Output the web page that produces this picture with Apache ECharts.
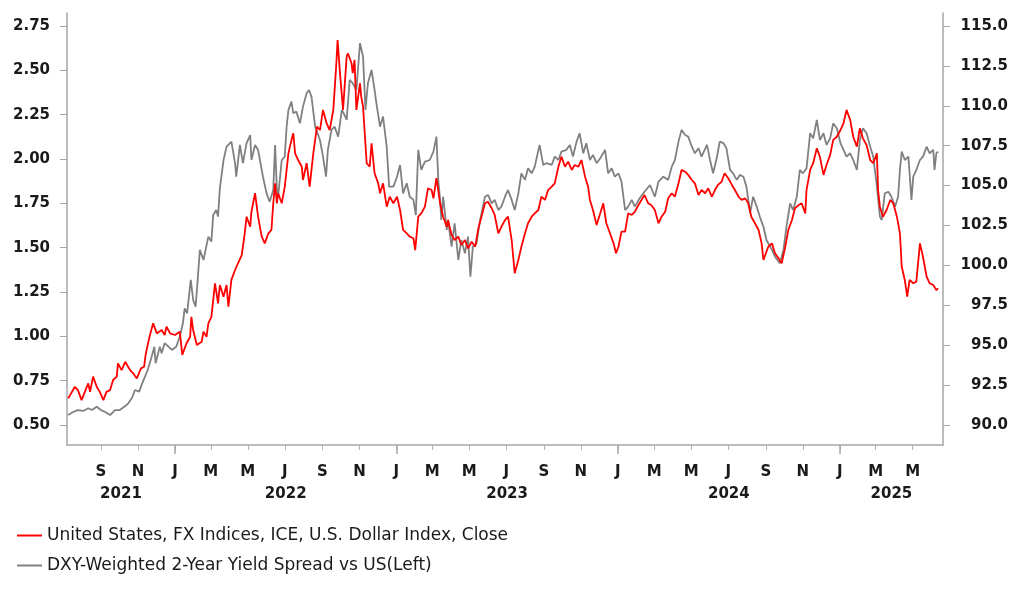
<!DOCTYPE html>
<html><head><meta charset="utf-8">
<script src="https://cdn.jsdelivr.net/npm/echarts@6/dist/echarts.min.js"></script>
<style>html,body{margin:0;padding:0;background:#fff}#c{width:1022px;height:597px}</style>
</head><body><div id="c"></div>
<script>
const redName = 'United States, FX Indices, ICE, U.S. Dollar Index, Close';
const grayName = 'DXY-Weighted 2-Year Yield Spread vs US(Left)';

const axisStart = '2021-07-07';
const axisEnd = '2025-06-20';
const leftMin = 0.387, leftMax = 2.823;
const rightMin = 88.75, rightMax = 115.81;
const leftTicks = [0.5, 0.75, 1.0, 1.25, 1.5, 1.75, 2.0, 2.25, 2.5, 2.75];
const rightTicks = [90, 92.5, 95, 97.5, 100, 102.5, 105, 107.5, 110, 112.5, 115];
const monthTickDates = ['2021-09-01','2021-11-01','2022-01-01','2022-03-01','2022-05-01','2022-07-01','2022-09-01','2022-11-01',
  '2023-01-01','2023-03-01','2023-05-01','2023-07-01','2023-09-01','2023-11-01','2024-01-01','2024-03-01','2024-05-01',
  '2024-07-01','2024-09-01','2024-11-01','2025-01-01','2025-03-01','2025-05-01'];
const monthLetters = ['J','F','M','A','M','J','J','A','S','O','N','D'];
const yearStartDates = ['2022-01-01','2023-01-01','2024-01-01','2025-01-01'];
const yearLabels = [2021, 2022, 2023, 2024, 2025];

const redDates = ['2021-07-09','2021-07-20','2021-07-25','2021-07-31','2021-08-11','2021-08-14','2021-08-19','2021-08-25','2021-08-30',
'2021-09-05','2021-09-10','2021-09-16','2021-09-21','2021-09-27','2021-09-29','2021-10-05','2021-10-11','2021-10-19','2021-10-24','2021-10-30',
'2021-11-06','2021-11-11','2021-11-14','2021-11-20','2021-11-26','2021-12-02','2021-12-10','2021-12-15','2021-12-18','2021-12-24',
'2022-01-01','2022-01-09','2022-01-13','2022-01-20','2022-01-26','2022-01-28','2022-01-31','2022-02-06','2022-02-14','2022-02-17','2022-02-22','2022-02-25',
'2022-03-02','2022-03-08','2022-03-13','2022-03-16','2022-03-22','2022-03-27','2022-03-30','2022-04-04','2022-04-10','2022-04-15','2022-04-21','2022-04-26','2022-04-29',
'2022-05-05','2022-05-07','2022-05-13','2022-05-18','2022-05-24','2022-05-29','2022-06-04','2022-06-09','2022-06-12','2022-06-15','2022-06-18','2022-06-20','2022-06-26',
'2022-07-01','2022-07-07','2022-07-12','2022-07-15','2022-07-18','2022-07-23','2022-07-29','2022-07-31','2022-08-06','2022-08-11','2022-08-17','2022-08-23','2022-08-28',
'2022-09-02','2022-09-08','2022-09-13','2022-09-19','2022-09-24','2022-09-26','2022-09-30','2022-10-05','2022-10-11','2022-10-13','2022-10-19','2022-10-21','2022-10-24','2022-10-27',
'2022-11-02','2022-11-04','2022-11-07','2022-11-13','2022-11-18','2022-11-21','2022-11-26','2022-12-02','2022-12-05','2022-12-10','2022-12-16','2022-12-21','2022-12-27',
'2023-01-02','2023-01-07','2023-01-12','2023-01-18','2023-01-23','2023-01-29','2023-02-01','2023-02-06','2023-02-11','2023-02-17','2023-02-22','2023-02-28',
'2023-03-03','2023-03-08','2023-03-14','2023-03-19','2023-03-25','2023-03-27','2023-04-02','2023-04-07','2023-04-13','2023-04-18','2023-04-24','2023-04-29',
'2023-05-05','2023-05-11','2023-05-16','2023-05-22','2023-05-27','2023-06-01','2023-06-07','2023-06-12','2023-06-18','2023-06-23','2023-06-29',
'2023-07-04','2023-07-10','2023-07-15','2023-07-21','2023-07-26','2023-08-01','2023-08-06','2023-08-12','2023-08-17','2023-08-23','2023-08-28',
'2023-09-03','2023-09-08','2023-09-14','2023-09-19','2023-09-25','2023-09-30','2023-10-06','2023-10-11','2023-10-17','2023-10-22','2023-10-28',
'2023-11-02','2023-11-08','2023-11-13','2023-11-16','2023-11-21','2023-11-27','2023-12-03','2023-12-08','2023-12-13','2023-12-19','2023-12-25','2023-12-29',
'2024-01-02','2024-01-07','2024-01-13','2024-01-18','2024-01-24','2024-01-29','2024-02-04','2024-02-09','2024-02-14','2024-02-20','2024-02-25',
'2024-03-02','2024-03-08','2024-03-13','2024-03-19','2024-03-24','2024-03-30','2024-04-04','2024-04-10','2024-04-15','2024-04-21','2024-04-26',
'2024-05-02','2024-05-07','2024-05-13','2024-05-18','2024-05-24','2024-05-29','2024-06-04','2024-06-09','2024-06-14','2024-06-20','2024-06-25',
'2024-07-01','2024-07-07','2024-07-12','2024-07-18','2024-07-23','2024-07-29','2024-08-03','2024-08-08','2024-08-14','2024-08-20','2024-08-25','2024-08-28',
'2024-09-05','2024-09-11','2024-09-16','2024-09-22','2024-09-27','2024-10-03','2024-10-08','2024-10-14','2024-10-19','2024-10-25','2024-10-30',
'2024-11-05','2024-11-07','2024-11-13','2024-11-18','2024-11-24','2024-11-29','2024-12-05','2024-12-10','2024-12-16','2024-12-21','2024-12-27',
'2025-01-02','2025-01-07','2025-01-12','2025-01-18','2025-01-23','2025-01-29','2025-02-03','2025-02-08','2025-02-14','2025-02-20','2025-02-25',
'2025-03-03','2025-03-05','2025-03-08','2025-03-13','2025-03-19','2025-03-25','2025-03-30','2025-04-05','2025-04-10','2025-04-13','2025-04-18','2025-04-22','2025-04-26',
'2025-05-02','2025-05-07','2025-05-13','2025-05-18','2025-05-24','2025-05-29','2025-06-04','2025-06-09','2025-06-12'];
const redValues = [91.67,92.40,92.19,91.56,92.61,92.08,93.03,92.40,92.08,
91.56,92.08,92.19,92.82,93.03,93.86,93.44,93.96,93.44,93.24,92.92,
93.55,93.65,94.49,95.53,96.37,95.74,95.95,95.64,96.16,95.74,
95.64,95.85,94.39,95.12,95.53,96.78,95.95,95.01,95.22,95.85,95.53,96.37,
96.78,98.88,97.62,98.77,98.04,98.77,97.41,99.09,99.71,100.15,100.65,102.01,103.05,
102.42,103.36,104.52,103.05,101.80,101.38,102.01,102.22,103.89,105.14,103.89,104.52,103.89,
104.93,107.02,107.86,108.28,107.02,106.60,106.18,105.35,106.40,104.93,107.02,108.69,108.48,
109.74,108.90,108.48,109.74,112.66,114.12,112.04,109.74,113.08,113.29,112.66,112.04,112.87,109.74,
111.41,110.57,109.94,106.40,106.18,107.65,105.77,105.14,104.52,105.14,103.68,104.30,103.89,
104.30,103.47,102.22,102.01,101.80,101.70,100.96,103.05,103.26,103.68,104.83,104.72,
104.20,105.46,103.89,103.05,102.42,102.84,101.90,101.59,101.80,101.28,101.59,101.07,
101.48,101.17,102.32,103.16,103.89,103.99,103.58,103.16,102.01,102.42,102.84,
103.05,101.59,99.50,100.34,101.17,102.01,102.64,103.05,103.26,103.47,104.30,
104.10,104.72,104.93,105.14,106.18,106.81,106.18,106.50,105.98,106.29,106.18,
106.60,105.56,104.93,104.10,103.47,102.53,103.26,103.89,102.64,102.01,101.38,100.76,
101.17,102.11,102.11,103.26,103.16,103.36,103.78,104.10,104.41,103.89,103.78,
103.47,102.64,103.05,103.36,104.20,104.52,104.30,105.14,105.98,105.87,105.67,
105.35,105.14,104.41,104.72,104.52,104.83,104.30,104.72,105.04,105.24,105.77,
105.46,105.04,104.72,104.30,104.10,104.20,103.89,103.05,102.64,102.22,101.38,100.34,
101.17,101.38,100.76,100.44,100.13,101.17,102.22,102.84,103.58,103.78,103.89,
103.26,104.72,105.98,106.40,107.34,106.81,105.67,106.29,106.92,107.86,108.06,
108.48,108.90,109.74,109.11,108.06,107.44,108.59,107.96,107.54,106.60,106.40,
107.02,104.72,103.68,103.05,103.47,104.10,103.89,103.05,102.01,99.92,99.09,98.04,99.09,
98.88,98.98,101.38,100.54,99.29,98.88,98.77,98.45,98.56];

const grayDates = ['2021-07-09','2021-07-17','2021-07-25','2021-08-03','2021-08-11','2021-08-17','2021-08-25','2021-09-01','2021-09-08','2021-09-16','2021-09-24',
'2021-10-02','2021-10-09','2021-10-16','2021-10-22','2021-10-27','2021-11-03','2021-11-08','2021-11-17','2021-11-22','2021-11-28','2021-11-30',
'2021-12-07','2021-12-10','2021-12-15','2021-12-27','2022-01-03','2022-01-09','2022-01-14','2022-01-17','2022-01-21','2022-01-27','2022-01-31',
'2022-02-04','2022-02-07','2022-02-11','2022-02-17','2022-02-25','2022-03-02','2022-03-05','2022-03-10','2022-03-13','2022-03-16','2022-03-22','2022-03-27',
'2022-04-04','2022-04-10','2022-04-12','2022-04-18','2022-04-23','2022-04-29','2022-05-05','2022-05-07','2022-05-13','2022-05-18','2022-05-24','2022-05-26',
'2022-06-01','2022-06-06','2022-06-12','2022-06-15','2022-06-18','2022-06-20','2022-06-26','2022-07-01','2022-07-04','2022-07-07','2022-07-12','2022-07-15',
'2022-07-20','2022-07-26','2022-07-31','2022-08-06','2022-08-10','2022-08-14','2022-08-20','2022-08-28','2022-09-02','2022-09-07','2022-09-10','2022-09-16',
'2022-09-21','2022-09-27','2022-10-03','2022-10-06','2022-10-11','2022-10-16','2022-10-21','2022-10-27','2022-11-02','2022-11-07','2022-11-11','2022-11-15',
'2022-11-21','2022-11-26','2022-11-29','2022-12-05','2022-12-10','2022-12-16','2022-12-20','2022-12-27','2023-01-02','2023-01-07','2023-01-12','2023-01-18',
'2023-01-23','2023-01-29','2023-02-02','2023-02-06','2023-02-11','2023-02-17','2023-02-25','2023-03-03','2023-03-08','2023-03-11','2023-03-14','2023-03-16',
'2023-03-19','2023-03-25','2023-03-27','2023-04-02','2023-04-07','2023-04-13','2023-04-18','2023-04-24','2023-04-29','2023-05-03','2023-05-07','2023-05-13',
'2023-05-19','2023-05-27','2023-06-01','2023-06-07','2023-06-12','2023-06-18','2023-06-23','2023-06-29','2023-07-04','2023-07-10','2023-07-15','2023-07-21',
'2023-07-26','2023-08-01','2023-08-06','2023-08-12','2023-08-17','2023-08-25','2023-08-31','2023-09-05','2023-09-14','2023-09-19','2023-09-25','2023-09-30',
'2023-10-08','2023-10-14','2023-10-19','2023-10-25','2023-10-30','2023-11-05','2023-11-10','2023-11-16','2023-11-21','2023-11-27','2023-12-03','2023-12-11',
'2023-12-16','2023-12-22','2023-12-27','2024-01-02','2024-01-07','2024-01-13','2024-01-18','2024-01-24','2024-01-29','2024-02-06','2024-02-14','2024-02-23',
'2024-03-02','2024-03-08','2024-03-16','2024-03-24','2024-03-30','2024-04-04','2024-04-10','2024-04-15','2024-04-21','2024-04-26','2024-05-02','2024-05-07',
'2024-05-13','2024-05-18','2024-05-27','2024-06-01','2024-06-06','2024-06-12','2024-06-17','2024-06-23','2024-06-28','2024-07-04','2024-07-09','2024-07-15',
'2024-07-20','2024-07-26','2024-07-31','2024-08-06','2024-08-11','2024-08-17','2024-08-22','2024-08-28','2024-09-02','2024-09-11','2024-09-16','2024-09-24',
'2024-09-30','2024-10-05','2024-10-11','2024-10-16','2024-10-22','2024-10-27','2024-11-01','2024-11-07','2024-11-13','2024-11-18','2024-11-24','2024-11-29',
'2024-12-05','2024-12-10','2024-12-16','2024-12-21','2024-12-27','2025-01-02','2025-01-07','2025-01-12','2025-01-18','2025-01-23','2025-01-29','2025-02-03',
'2025-02-08','2025-02-14','2025-02-20','2025-02-25','2025-03-03','2025-03-08','2025-03-11','2025-03-16','2025-03-22','2025-03-27','2025-04-02','2025-04-07',
'2025-04-10','2025-04-13','2025-04-18','2025-04-24','2025-04-29','2025-05-02','2025-05-07','2025-05-13','2025-05-18','2025-05-24','2025-05-29','2025-06-04',
'2025-06-06','2025-06-09','2025-06-12'];
const grayValues = [0.556,0.573,0.584,0.579,0.594,0.584,0.603,0.584,0.573,0.556,0.584,
0.584,0.601,0.622,0.652,0.697,0.688,0.735,0.810,0.866,0.941,0.848,
0.941,0.904,0.961,0.923,0.941,0.998,1.073,1.158,1.130,1.318,1.205,
1.167,1.299,1.487,1.430,1.562,1.534,1.684,1.712,1.675,1.835,1.994,2.069,
2.098,1.976,1.900,2.079,1.976,2.089,2.135,1.994,2.079,2.051,1.938,1.900,
1.806,1.759,1.825,2.079,1.825,1.787,1.994,2.013,2.182,2.276,2.323,2.258,
2.267,2.201,2.295,2.370,2.389,2.351,2.182,2.107,2.013,1.900,2.051,2.164,
2.182,2.126,2.276,2.258,2.220,2.446,2.427,2.389,2.653,2.577,2.276,2.427,
2.502,2.389,2.314,2.182,2.239,2.069,1.844,1.844,1.900,1.966,1.806,1.863,
1.787,1.769,1.684,2.051,1.938,1.985,1.994,2.041,2.126,1.882,1.769,1.656,
1.787,1.600,1.656,1.505,1.637,1.430,1.543,1.468,1.562,1.336,1.505,1.524,
1.656,1.787,1.797,1.750,1.769,1.712,1.731,1.787,1.825,1.769,1.712,1.806,
1.919,1.882,1.947,1.919,1.957,2.079,1.966,1.976,1.966,2.013,1.994,2.041,
2.051,2.079,2.013,2.098,2.145,2.032,2.089,1.994,2.023,1.976,2.004,2.051,
1.919,1.947,1.900,1.919,1.872,1.712,1.731,1.769,1.731,1.778,1.815,1.853,
1.787,1.872,1.900,1.882,1.957,1.994,2.098,2.164,2.135,2.126,2.069,2.032,
2.060,2.013,2.079,1.994,1.919,2.004,2.098,2.089,2.060,1.938,1.919,1.882,
1.910,1.900,1.844,1.694,1.787,1.731,1.675,1.618,1.543,1.487,1.449,1.412,
1.487,1.618,1.750,1.712,1.787,1.938,1.919,1.947,2.145,2.117,2.220,2.107,
2.145,2.079,2.117,2.201,2.173,2.089,2.051,2.013,2.032,1.994,1.938,2.107,
2.173,2.145,2.069,2.013,1.844,1.675,1.656,1.806,1.815,1.787,1.731,1.787,
1.938,2.041,1.994,2.013,1.769,1.900,1.938,1.994,2.013,2.069,2.032,2.051,
1.938,2.032,2.041];

const RED = '#ff0000', GRAY = '#808080';
const FONT = 'DejaVu Sans';
const t = s => Date.parse(s);
const xMin = t(axisStart), xMax = t(axisEnd);
const redData = redDates.map((d, i) => [t(d), redValues[i]]);
const grayData = grayDates.map((d, i) => [t(d), grayValues[i]]);
const monthTicks = monthTickDates.map(t);
const yearTicks = yearStartDates.map(t);
// year labels centred on the visible part of each year
const bounds = [xMin].concat(yearTicks).concat([xMax]);
const yearCenters = yearLabels.map((y, i) => (bounds[i] + bounds[i + 1]) / 2);

const axisLineStyle = { color: '#a6a6a6', width: 1.5 };
const labelStyle = { color: '#1a1a1a', fontFamily: FONT, fontWeight: 'bold', fontSize: 15 };

const chart = echarts.init(document.getElementById('c'), null, { renderer: 'canvas' });
chart.setOption({
  animation: false,
  backgroundColor: '#ffffff',
  grid: { left: 67, right: 79, top: 13, bottom: 152, containLabel: false },
  legend: {
    orient: 'vertical', left: 17, top: 527, padding: 0,
    itemWidth: 25, itemHeight: 2, itemGap: 13,
    icon: 'rect',
    data: [redName, grayName],
    textStyle: { fontFamily: FONT, fontSize: 17, color: '#1a1a1a' }
  },
  xAxis: [
    {
      type: 'value', min: xMin, max: xMax, position: 'bottom',
      axisLine: { show: true, lineStyle: axisLineStyle },
      axisTick: { show: true, customValues: monthTicks, length: 5, lineStyle: { color: '#b3b3b3', width: 1 } },
      axisLabel: Object.assign({ customValues: monthTicks, margin: 20,
        formatter: v => monthLetters[new Date(v).getUTCMonth()] }, labelStyle),
      splitLine: { show: false }
    },
    {
      type: 'value', min: xMin, max: xMax, position: 'bottom',
      axisLine: { show: false },
      axisTick: { show: true, customValues: yearTicks, length: 9, lineStyle: { color: '#a6a6a6', width: 1.5 } },
      axisLabel: { show: false },
      splitLine: { show: false }
    },
    {
      type: 'value', min: xMin, max: xMax, position: 'bottom',
      axisLine: { show: false },
      axisTick: { show: false },
      axisLabel: Object.assign({ customValues: yearCenters, margin: 42,
        formatter: v => { const i = yearCenters.indexOf(v); return i >= 0 ? String(yearLabels[i]) : ''; } }, labelStyle),
      splitLine: { show: false }
    }
  ],
  yAxis: [
    {
      type: 'value', position: 'left', min: leftMin, max: leftMax,
      axisLine: { show: true, lineStyle: axisLineStyle },
      axisTick: { show: true, customValues: leftTicks, length: 7, lineStyle: { color: '#a6a6a6', width: 1 } },
      axisLabel: Object.assign({ customValues: leftTicks, margin: 17, formatter: v => v.toFixed(2) }, labelStyle),
      splitLine: { show: false }
    },
    {
      type: 'value', position: 'right', min: rightMin, max: rightMax,
      axisLine: { show: true, lineStyle: axisLineStyle },
      axisTick: { show: true, customValues: rightTicks, length: 7, lineStyle: { color: '#a6a6a6', width: 1 } },
      axisLabel: Object.assign({ customValues: rightTicks, margin: 65, align: 'right', formatter: v => v.toFixed(1) }, labelStyle),
      splitLine: { show: false }
    }
  ],
  series: [
    {
      name: grayName, type: 'line', xAxisIndex: 0, yAxisIndex: 0, data: grayData,
      showSymbol: false, symbol: 'none', color: GRAY,
      lineStyle: { color: GRAY, width: 1.8 }, z: 2
    },
    {
      name: redName, type: 'line', xAxisIndex: 0, yAxisIndex: 1, data: redData,
      showSymbol: false, symbol: 'none', color: RED,
      lineStyle: { color: RED, width: 1.8 }, z: 3
    }
  ]
});
</script>
</body></html>
